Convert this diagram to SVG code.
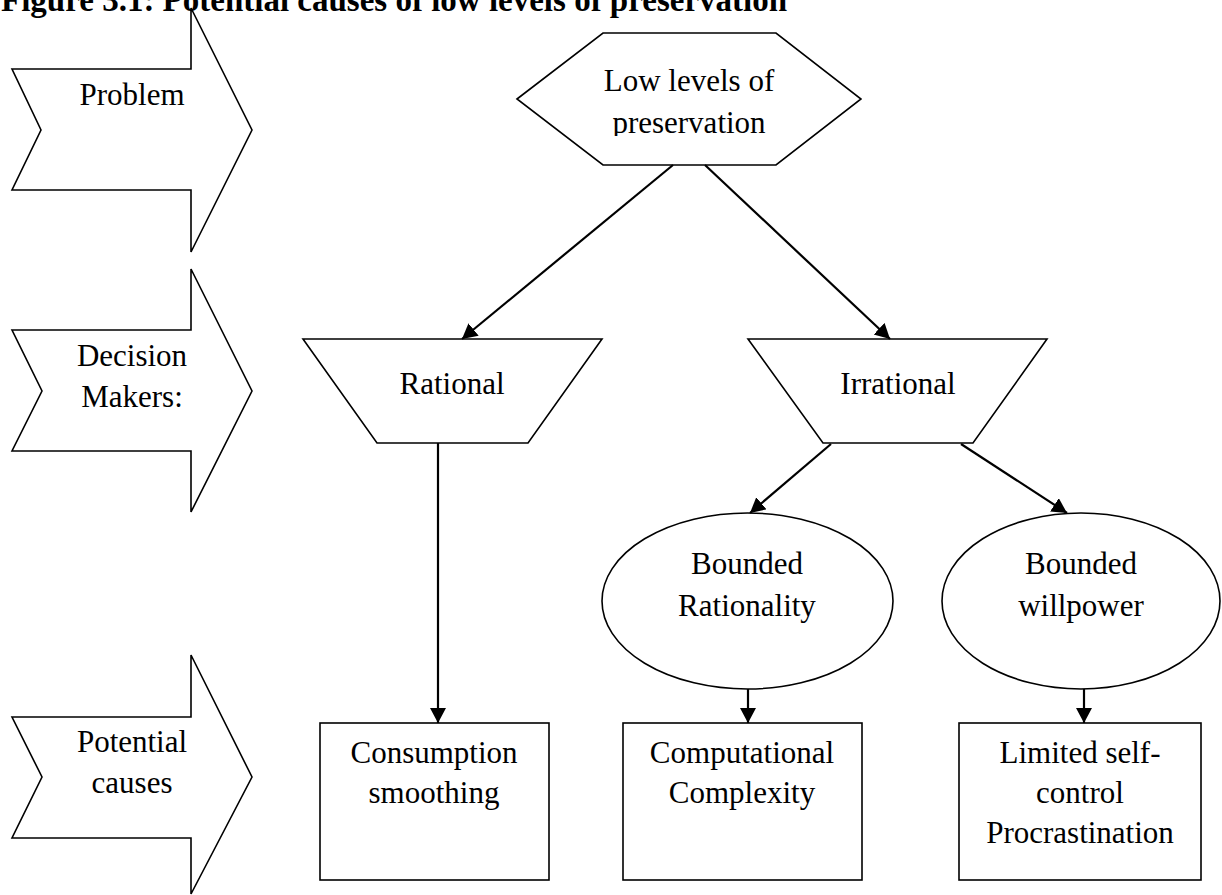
<svg xmlns="http://www.w3.org/2000/svg" width="1222" height="895" viewBox="0 0 1222 895">
<style>
.s{fill:#fff;stroke:#000;stroke-width:1.6;stroke-linejoin:miter}
.t{font-family:"Liberation Serif","Times New Roman",serif;font-size:31px;fill:#000;text-anchor:middle}
.title{font-family:"Liberation Serif","Times New Roman",serif;font-size:33px;font-weight:bold;fill:#000}
.c{fill:none;stroke:#000;stroke-width:2.2}
</style>
<defs>
<marker id="ah" markerUnits="userSpaceOnUse" markerWidth="18" markerHeight="18" refX="15" refY="8" orient="auto">
<path d="M0,0 L15,8 L0,16 z" fill="#000"/>
</marker>
<clipPath id="hexclip"><rect x="517" y="33" width="345" height="103"/></clipPath>
</defs>
<rect width="1222" height="895" fill="#fff"/>
<text class="title" x="1" y="11">Figure 3.1: Potential causes of low levels of preservation</text>

<g id="arrow-problem">
<polygon class="s" points="12,69 191,69 191,8 252,130 191,252 191,190 12,190 41,130"/>
<text class="t" x="132" y="105">Problem</text>
</g>
<g id="arrow-decision">
<polygon class="s" points="12,330 191,330 191,269 252,391 191,512 191,451 12,451 42,391"/>
<text class="t" x="132" y="366">Decision</text>
<text class="t" x="132" y="407">Makers:</text>
</g>
<g id="arrow-potential">
<polygon class="s" points="12,717 191,717 191,655 252,777 191,894 191,838 12,838 42,777"/>
<text class="t" x="132" y="752">Potential</text>
<text class="t" x="132" y="793">causes</text>
</g>

<g id="node-low">
<polygon class="s" points="517,99 603,33 776,33 861,99 776,165 603,165"/>
<g clip-path="url(#hexclip)">
<text class="t" x="689" y="91">Low levels of</text>
<text class="t" x="689" y="133">preservation</text>
</g>
</g>
<g id="node-rational">
<polygon class="s" points="303,339 602,339 528,443 377,443"/>
<text class="t" x="452" y="394">Rational</text>
</g>
<g id="node-irrational">
<polygon class="s" points="748,339 1047,339 973,443 823,443"/>
<text class="t" x="898" y="394">Irrational</text>
</g>
<g id="node-bounded-rationality">
<ellipse class="s" cx="747.5" cy="601" rx="145.5" ry="88"/>
<text class="t" x="747" y="574">Bounded</text>
<text class="t" x="747" y="616">Rationality</text>
</g>
<g id="node-bounded-willpower">
<ellipse class="s" cx="1081" cy="601" rx="139" ry="88"/>
<text class="t" x="1081" y="574">Bounded</text>
<text class="t" x="1081" y="616">willpower</text>
</g>
<g id="node-consumption">
<rect class="s" x="320" y="723" width="229" height="157"/>
<text class="t" x="434" y="763">Consumption</text>
<text class="t" x="434" y="803">smoothing</text>
</g>
<g id="node-computational">
<rect class="s" x="623" y="723" width="239" height="157"/>
<text class="t" x="742" y="763">Computational</text>
<text class="t" x="742" y="803">Complexity</text>
</g>
<g id="node-limited">
<rect class="s" x="959" y="723" width="242" height="157"/>
<text class="t" x="1080" y="763">Limited self-</text>
<text class="t" x="1080" y="803">control</text>
<text class="t" x="1080" y="843">Procrastination</text>
</g>

<g id="connectors">
<line class="c" x1="673" y1="165" x2="462" y2="339" marker-end="url(#ah)"/>
<line class="c" x1="705" y1="165" x2="890" y2="339" marker-end="url(#ah)"/>
<line class="c" x1="438" y1="443" x2="438" y2="723" marker-end="url(#ah)"/>
<line class="c" x1="831" y1="444" x2="750" y2="513" marker-end="url(#ah)"/>
<line class="c" x1="961" y1="444" x2="1067" y2="513" marker-end="url(#ah)"/>
<line class="c" x1="748" y1="689" x2="748" y2="723" marker-end="url(#ah)"/>
<line class="c" x1="1084" y1="689" x2="1084" y2="723" marker-end="url(#ah)"/>
</g>
</svg>
